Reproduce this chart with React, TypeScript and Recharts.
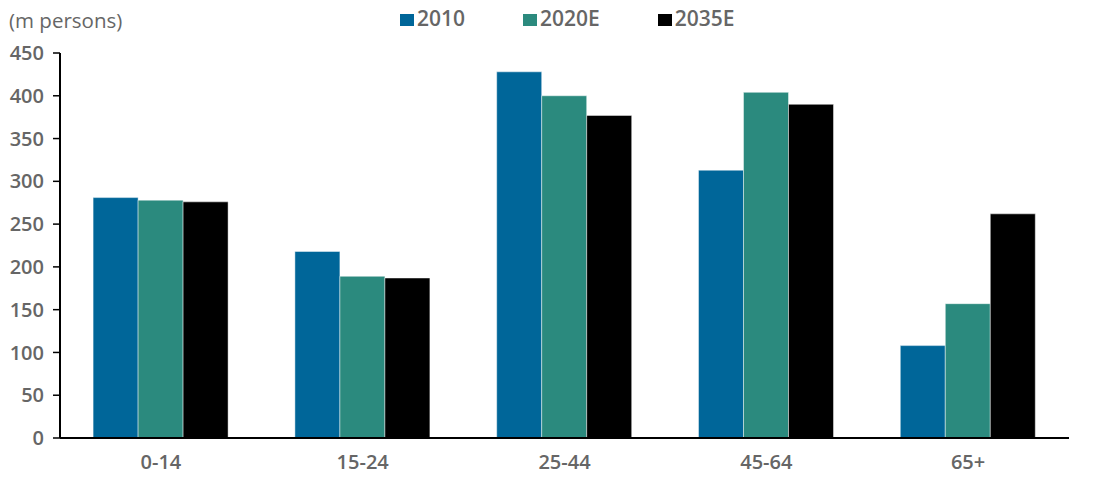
import React from 'react';
import { BarChart, Bar, XAxis, YAxis } from 'recharts';

// Population by age group, millions of persons
const ageGroups = ['0-14', '15-24', '25-44', '45-64', '65+'];
const pop2010 = [281, 218, 428, 313, 108];
const pop2020E = [278, 189, 400, 404, 157];
const pop2035E = [276, 187, 377, 390, 262];
const yTicks = [0, 50, 100, 150, 200, 250, 300, 350, 400, 450];
const groupEdges = [0, 1, 2, 3, 4, 5];

const seriesNames = ['2010', '2020E', '2035E'];
const seriesColors = ['#006699', '#2B8A7E', '#000000'];

const data = ageGroups.map((g, i) => ({
  group: g,
  idx: i,
  '2010': pop2010[i],
  '2020E': pop2020E[i],
  '2035E': pop2035E[i],
}));

const FONT = '"Open Sans", "Lato", sans-serif';
const TEXT = '#666666';

const LegendRow = () => (
  <div style={{ display: 'flex', alignItems: 'center', fontFamily: FONT, fontWeight: 600, fontSize: 21, color: TEXT }}>
    {seriesNames.map((n, i) => (
      <div key={n} style={{ display: 'flex', alignItems: 'center', marginRight: 58 }}>
        <span style={{ display: 'inline-block', width: 14, height: 12, background: seriesColors[i], marginRight: 3, marginTop: 4 }} />
        <span>{n}</span>
      </div>
    ))}
  </div>
);

export default function App() {
  return (
    <div style={{ position: 'absolute', left: 0, top: 0, width: 1094, height: 481, background: '#fff' }}>
      <div style={{ position: 'absolute', left: 9, top: 6, fontFamily: FONT, fontSize: 20.5, color: TEXT, zIndex: 2 }}>
        (m persons)
      </div>
      <div style={{ position: 'absolute', left: 400, top: 4, zIndex: 2 }}>
        <LegendRow />
      </div>
      <BarChart
        width={1094}
        height={481}
        data={data}
        margin={{ top: 53, right: 25, left: 0, bottom: 0 }}
        barCategoryGap="16.4%"
        barGap={0}
      >
        <XAxis
          xAxisId="a_edge"
          type="number"
          dataKey="idx"
          domain={[0, 5]}
          ticks={groupEdges}
          allowDataOverflow
          height={8}
          tickSize={8}
          tick={false}
          axisLine={{ stroke: '#000', strokeWidth: 2 }}
          tickLine={{ stroke: '#000', strokeWidth: 1.5 }}
        />
        <XAxis
          xAxisId="b_cat"
          dataKey="group"
          height={35}
          axisLine={false}
          tickLine={false}
          tickSize={0}
          tickMargin={9}
          tick={{ fill: TEXT, fontSize: 20, fontFamily: FONT, fontWeight: 600 }}
        />
        <YAxis
          domain={[0, 450]}
          ticks={yTicks}
          width={60}
          tickSize={7}
          tickMargin={9}
          axisLine={{ stroke: '#000', strokeWidth: 2 }}
          tickLine={{ stroke: '#000', strokeWidth: 1.5 }}
          tick={{ fill: TEXT, fontSize: 20, fontFamily: FONT, fontWeight: 600 }}
        />
        {seriesNames.map((n, i) => (
          <Bar
            key={n}
            xAxisId="b_cat"
            dataKey={n}
            fill={seriesColors[i]}
            stroke="#ffffff"
            strokeOpacity={0.45}
            strokeWidth={1}
            isAnimationActive={false}
          />
        ))}
      </BarChart>
    </div>
  );
}
